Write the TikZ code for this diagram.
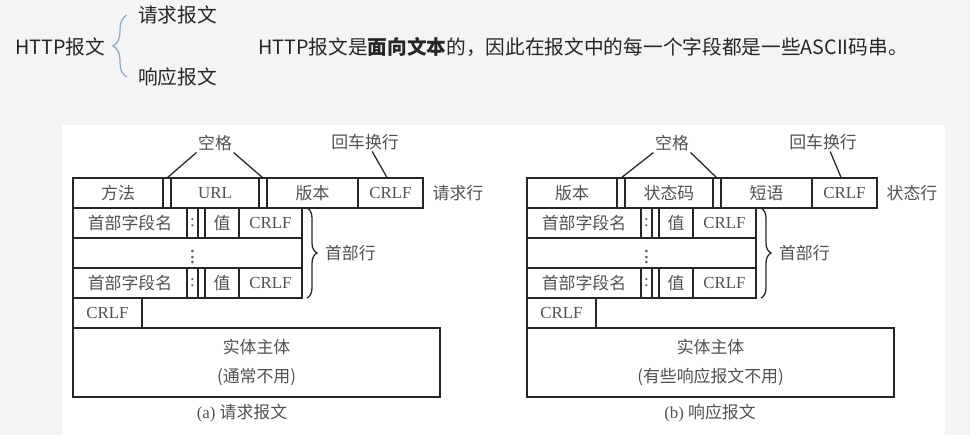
\documentclass[tikz,border=0pt]{standalone}
\usepackage{fontspec}
\setmainfont{Liberation Serif}
\newfontfamily\cjk{Noto Sans CJK SC}
\usetikzlibrary{positioning,decorations.pathreplacing}

\definecolor{bgcol}{HTML}{F4F4F4}
\definecolor{inkcol}{HTML}{262626}
\definecolor{bracecol}{HTML}{8EA9C8}

\begin{document}
\begin{tikzpicture}[x=0.025cm, y=-0.025cm,
  cell/.style={draw=inkcol, line width=0.9pt, anchor=north west, inner sep=0pt, outer sep=0pt,
    minimum height=0.75cm, font=\fontsize{12}{15}\selectfont, text=inkcol!80},
  wd/.style={minimum width=#1*0.025cm},
  lbl/.style={inner sep=1pt, font=\cjk\fontsize{12}{15}\selectfont, text=inkcol!80},
  top/.style={inner sep=0pt, font=\cjk\fontsize{14}{17}\selectfont, text=inkcol},
  link/.style={draw=inkcol, line width=0.9pt},
  hbrace/.style={decorate, decoration={brace, amplitude=0.25cm}, draw=inkcol, line width=0.9pt},
]

% === Page and panel ===
\fill[bgcol] (0,0) rectangle (970,435);
\fill[white] (62,125) rectangle (945,435);

% === Heading ===
\node[top] (http) at (60,47) {HTTP报文};
\node[top, anchor=west] (req) at (138,15) {请求报文};
\node[top, anchor=west] (resp) at (138,77) {响应报文};
\draw[decorate, decoration={brace, amplitude=0.35cm}, draw=bracecol, line width=0.9pt]
  ([xshift=-0.275cm]resp.west) -- ([xshift=-0.275cm]req.west);
\node[top, anchor=west] (note) at (258,47)
  {HTTP报文是\textbf{面向文本}的，因此在报文中的每一个字段都是一些ASCII码串。};

% === (a) request message ===
\node[cell, wd=90] (qm) at (73,178) {\cjk 方法};
\node[cell, wd=8, right=0pt of qm] (qg1) {};
\node[cell, wd=88, right=0pt of qg1] (qurl) {URL};
\node[cell, wd=8, right=0pt of qurl] (qg2) {};
\node[cell, wd=91, right=0pt of qg2] (qver) {\cjk 版本};
\node[cell, wd=65, right=0pt of qver] (qcr) {CRLF};
\node[lbl, right=0.2cm of qcr] (qline) {请求行};

\node[lbl] (qsp) at (215,143) {空格};
\draw[link] (qsp.south west) -- (qg1.north);
\draw[link] (qsp.south east) -- (qg2.north);
\node[lbl] (qcrl) at (365,142) {回车换行};
\draw[link] ([xshift=0.18cm]qcrl.south) -- ([xshift=-0.08cm]qcr.north);

\foreach \r/\y in {1/208,3/268}{
  \node[cell, wd=114] (qn\r) at (73,\y) {\cjk 首部字段名};
  \node[cell, wd=11, right=0pt of qn\r] (qc\r) {:};
  \node[cell, wd=7, right=0pt of qc\r] (qs\r) {};
  \node[cell, wd=34, right=0pt of qs\r] (qv\r) {\cjk 值};
  \node[cell, wd=63, right=0pt of qv\r] (qe\r) {CRLF};
}
\node[cell, wd=229] (qn2) at (73,238) {};
\node[lbl, font=\fontsize{15}{15}\selectfont] (qdots) at (qc1 |- qn2) {$\vdots$};
\draw[hbrace] ([xshift=0.125cm]qe1.north east) -- ([xshift=0.125cm]qe3.south east)
  node[lbl, midway, right=0.4cm] (qhead) {首部行};

\node[cell, wd=69] (qend) at (73,298) {CRLF};
\node[cell, wd=367, minimum height=1.725cm, align=center, font=\cjk\fontsize{12}{21}\selectfont]
  (qbody) at (73,328) {实体主体\\(通常不用)};
\node[lbl, font=\fontsize{12}{15}\selectfont] (qcap) at (242,413) {(a) {\cjk 请求报文}};

% === (b) response message ===
\node[cell, wd=90] (pv) at (527,178) {\cjk 版本};
\node[cell, wd=8, right=0pt of pv] (pg1) {};
\node[cell, wd=88, right=0pt of pg1] (pcode) {\cjk 状态码};
\node[cell, wd=8, right=0pt of pcode] (pg2) {};
\node[cell, wd=91, right=0pt of pg2] (pphr) {\cjk 短语};
\node[cell, wd=65, right=0pt of pphr] (pcr) {CRLF};
\node[lbl, right=0.2cm of pcr] (pline) {状态行};

\node[lbl] (psp) at (672,143) {空格};
\draw[link] (psp.south west) -- (pg1.north);
\draw[link] (psp.south east) -- (pg2.north);
\node[lbl] (pcrl) at (823,142) {回车换行};
\draw[link] ([xshift=0.18cm]pcrl.south) -- ([xshift=-0.08cm]pcr.north);

\foreach \r/\y in {1/208,3/268}{
  \node[cell, wd=114] (pn\r) at (527,\y) {\cjk 首部字段名};
  \node[cell, wd=11, right=0pt of pn\r] (pc\r) {:};
  \node[cell, wd=7, right=0pt of pc\r] (ps\r) {};
  \node[cell, wd=34, right=0pt of ps\r] (pv\r) {\cjk 值};
  \node[cell, wd=63, right=0pt of pv\r] (pe\r) {CRLF};
}
\node[cell, wd=229] (pn2) at (527,238) {};
\node[lbl, font=\fontsize{15}{15}\selectfont] (pdots) at (pc1 |- pn2) {$\vdots$};
\draw[hbrace] ([xshift=0.125cm]pe1.north east) -- ([xshift=0.125cm]pe3.south east)
  node[lbl, midway, right=0.4cm] (phead) {首部行};

\node[cell, wd=69] (pend) at (527,298) {CRLF};
\node[cell, wd=367, minimum height=1.725cm, align=center, font=\cjk\fontsize{12}{21}\selectfont]
  (pbody) at (527,328) {实体主体\\(有些响应报文不用)};
\node[lbl, font=\fontsize{12}{15}\selectfont] (pcap) at (710,413) {(b) {\cjk 响应报文}};

\end{tikzpicture}
\end{document}
